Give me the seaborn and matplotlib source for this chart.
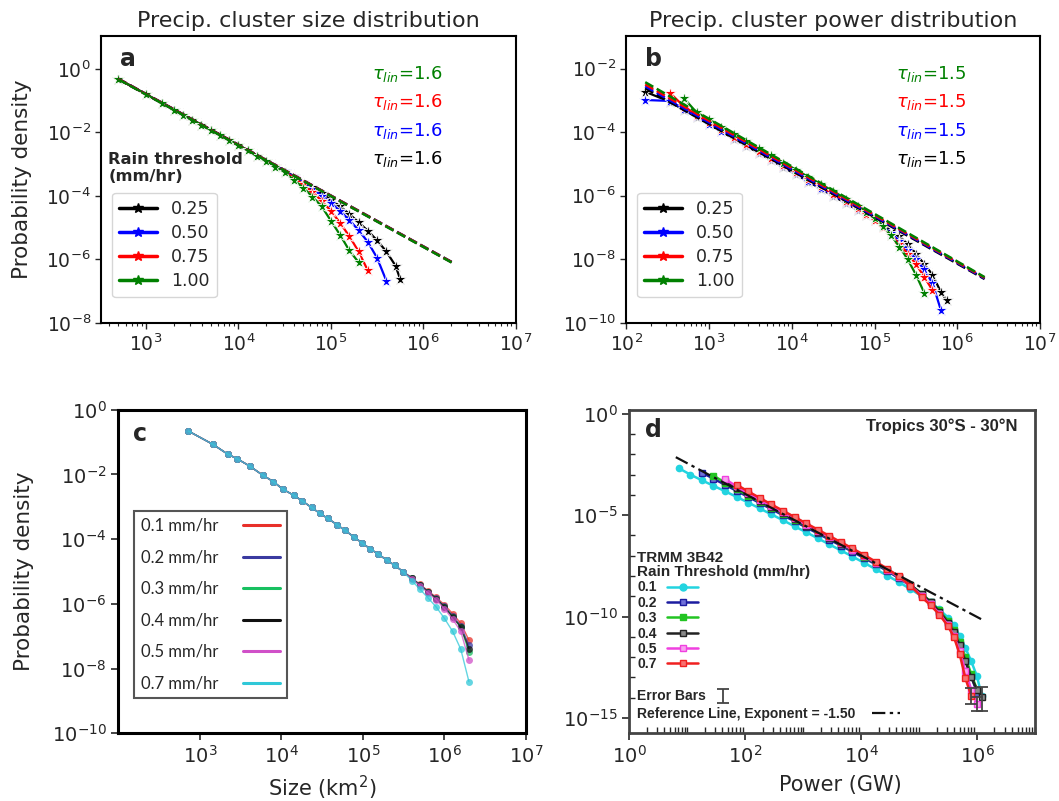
import numpy as np
import pandas as pd
import matplotlib
matplotlib.use("Agg")
import matplotlib.pyplot as plt
import seaborn as sns
from matplotlib.lines import Line2D
from matplotlib.ticker import LogLocator, NullLocator, NullFormatter

sns.set_style("ticks")
plt.rcParams['font.family'] = ['DejaVu Sans']
plt.rcParams['mathtext.fontset'] = 'dejavusans'

# ---------------- Panel a: cluster size distribution (log10 values)
a_thresholds = ["0.25", "0.50", "0.75", "1.00"]
a_colors = ["black", "blue", "red", "green"]
a_size_log10 = [2.70, 3.00, 3.176, 3.301, 3.398, 3.50, 3.60, 3.70, 3.80, 3.90, 4.00, 4.10, 4.20, 4.30,
                4.40, 4.50, 4.60, 4.70, 4.80, 4.90, 5.00, 5.10, 5.20, 5.30, 5.40, 5.50, 5.60, 5.70, 5.75]
a_p_025 = [-0.32, -0.80, -1.09, -1.28, -1.44, -1.61, -1.76, -1.93, -2.08, -2.24, -2.41, -2.56, -2.73, -2.89,
           -3.05, -3.21, -3.38, -3.55, -3.73, -3.92, -4.12, -4.33, -4.57, -4.83, -5.10, -5.40, -5.75, -6.20, -6.62]
a_p_050 = [-0.32, -0.80, -1.09, -1.28, -1.44, -1.61, -1.76, -1.93, -2.08, -2.24, -2.41, -2.56, -2.73, -2.89,
           -3.06, -3.22, -3.40, -3.58, -3.78, -3.99, -4.22, -4.48, -4.76, -5.08, -5.45, -5.95, -6.67]
a_p_075 = [-0.32, -0.80, -1.09, -1.28, -1.44, -1.61, -1.76, -1.93, -2.08, -2.24, -2.41, -2.56, -2.73, -2.89,
           -3.07, -3.24, -3.43, -3.64, -3.88, -4.15, -4.47, -4.85, -5.27, -5.75, -6.35]
a_p_100 = [-0.32, -0.80, -1.09, -1.28, -1.44, -1.61, -1.76, -1.93, -2.08, -2.24, -2.41, -2.57, -2.74, -2.91,
           -3.08, -3.26, -3.50, -3.74, -4.02, -4.33, -4.78, -5.23, -5.72, -6.09]
a_fit_size_log10 = [2.70, 6.32]
a_fit_p = {"0.25": [-0.31, -6.10], "0.50": [-0.32, -6.11], "0.75": [-0.32, -6.11], "1.00": [-0.33, -6.12]}
a_tau = ["1.6", "1.6", "1.6", "1.6"]

# ---------------- Panel b: cluster power distribution
b_power_log10 = [2.23, 2.53, 2.70, 2.85, 3.00, 3.15, 3.30, 3.45, 3.60, 3.75, 3.90, 4.05, 4.20, 4.35,
                 4.50, 4.65, 4.80, 4.90, 5.00, 5.10, 5.20, 5.30, 5.40, 5.50, 5.60, 5.70, 5.80, 5.87]
b_p_025 = [-2.73, -3.05, -3.31, -3.53, -3.76, -3.98, -4.21, -4.43, -4.66, -4.88, -5.11, -5.33, -5.56, -5.78,
           -6.01, -6.23, -6.46, -6.61, -6.77, -6.93, -7.10, -7.28, -7.52, -7.82, -8.15, -8.48, -9.02, -9.28]
b_p_050 = [-2.99, -3.02, -3.28, -3.50, -3.73, -3.95, -4.18, -4.40, -4.63, -4.85, -5.08, -5.30, -5.53, -5.75,
           -5.98, -6.20, -6.43, -6.58, -6.75, -6.95, -7.18, -7.42, -7.70, -8.00, -8.32, -8.75, -9.58]
b_p_075 = [None, -2.77, -3.20, -3.45, -3.68, -3.91, -4.14, -4.36, -4.59, -4.81, -5.04, -5.26, -5.49, -5.71,
           -5.94, -6.16, -6.40, -6.56, -6.75, -6.98, -7.24, -7.52, -7.82, -8.15, -8.55, -8.97]
b_p_100 = [None, None, -2.94, -3.38, -3.60, -3.83, -4.06, -4.28, -4.51, -4.73, -4.96, -5.18, -5.41, -5.63,
           -5.86, -6.09, -6.33, -6.50, -6.70, -6.95, -7.25, -7.60, -8.00, -8.48, -9.05]
b_fit_power_log10 = [2.23, 6.33]
b_fit_p = {"0.25": [-2.62, -8.62], "0.50": [-2.56, -8.60], "0.75": [-2.50, -8.58], "1.00": [-2.43, -8.56]}
b_tau = ["1.5", "1.5", "1.5", "1.5"]

# ---------------- Panel c: size distribution, several thresholds
c_labels = ["0.1 mm/hr", "0.2 mm/hr", "0.3 mm/hr", "0.4 mm/hr", "0.5 mm/hr", "0.7 mm/hr"]
c_colors = ["#e8302a", "#3a3aa0", "#18c060", "#111111", "#d050c8", "#30c8d8"]
c_size_log10 = [2.86, 3.16, 3.34, 3.46, 3.61, 3.77, 3.90, 4.02, 4.15, 4.25, 4.37, 4.47, 4.57, 4.68, 4.78,
                4.89, 4.99, 5.09, 5.19, 5.29, 5.39, 5.49, 5.60, 5.70, 5.80, 5.90, 6.00, 6.10, 6.20, 6.30]
c_head = [-0.66, -1.07, -1.37, -1.52, -1.74, -2.02, -2.22, -2.46, -2.64, -2.81, -3.02, -3.20, -3.36, -3.55,
          -3.73, -3.93, -4.12, -4.30, -4.47, -4.64, -4.81, -5.00]
c_p_01 = c_head + [-5.20, -5.40, -5.60, -5.80, -6.03, -6.30, -6.60, -7.12]
c_p_02 = c_head + [-5.21, -5.41, -5.62, -5.83, -6.08, -6.36, -6.68, -7.27]
c_p_03 = c_head + [-5.21, -5.42, -5.63, -5.84, -6.10, -6.40, -6.72, -7.48]
c_p_04 = c_head + [-5.21, -5.42, -5.63, -5.84, -6.10, -6.40, -6.72, -7.38]
c_p_05 = c_head + [-5.22, -5.44, -5.66, -5.88, -6.15, -6.47, -6.85, -7.73]
c_p_07 = c_head + [-5.28, -5.55, -5.82, -6.10, -6.45, -6.85, -7.40, -8.40]

# ---------------- Panel d: power distribution, TRMM 3B42
d_labels = ["0.1", "0.2", "0.3", "0.4", "0.5", "0.7"]
d_colors = ["#22d4e0", "#1c1ca0", "#22c422", "#222222", "#f040e0", "#f02020"]
d_face = ["#22d4e0", "#7070d8", "#22c422", "#888888", "#f8a0f0", "#f87070"]
d_markers = ["o", "s", "s", "s", "s", "s"]
d_power_log10 = [0.85, 1.05, 1.25, 1.45, 1.65, 1.85, 2.05, 2.25, 2.45, 2.65, 2.85, 3.05, 3.25, 3.45, 3.65,
                 3.85, 4.05, 4.25, 4.45, 4.65, 4.85, 5.05, 5.20, 5.35, 5.50, 5.60, 5.70, 5.80, 5.90, 6.00, 6.08]
d_p_01 = [-2.68, -3.00, -3.28, -3.55, -3.82, -4.10, -4.38, -4.67, -4.96, -5.25, -5.55, -5.84, -6.14, -6.44,
          -6.74, -7.04, -7.35, -7.66, -7.98, -8.30, -8.64, -9.00, -9.30, -9.65, -10.05, -10.40, -10.95, -11.55,
          -12.20, -12.95, -13.90]
d_p_02 = [None, None, -2.90, -3.20, -3.50, -3.80, -4.10, -4.40, -4.70, -5.00, -5.30, -5.60, -5.90, -6.20,
          -6.50, -6.80, -7.11, -7.42, -7.75, -8.10, -8.48, -8.92, -9.30, -9.72, -10.25, -10.70, -11.35, -12.10,
          -12.95, -13.75]
d_p_03 = [None, None, None, -3.05, -3.40, -3.72, -4.03, -4.33, -4.63, -4.93, -5.23, -5.53, -5.83, -6.13,
          -6.44, -6.74, -7.05, -7.37, -7.70, -8.05, -8.44, -8.88, -9.27, -9.70, -10.22, -10.65, -11.25, -12.00,
          -12.85, -13.60]
d_p_04 = [None, None, None, None, -3.30, -3.65, -3.98, -4.29, -4.60, -4.91, -5.21, -5.51, -5.81, -6.11,
          -6.42, -6.72, -7.03, -7.35, -7.68, -8.03, -8.43, -8.90, -9.30, -9.75, -10.30, -10.75, -11.40, -12.20,
          -13.00, -13.60, -13.95]
d_p_05 = [None, None, None, None, -3.22, -3.58, -3.92, -4.24, -4.55, -4.86, -5.16, -5.46, -5.77, -6.08,
          -6.39, -6.70, -7.01, -7.34, -7.68, -8.05, -8.48, -8.98, -9.40, -9.85, -10.42, -10.95, -11.70, -12.70,
          -13.60, -14.30]
d_p_07 = [None, None, None, None, None, -3.50, -3.83, -4.15, -4.47, -4.78, -5.09, -5.40, -5.71, -6.02,
          -6.33, -6.64, -6.96, -7.29, -7.64, -8.02, -8.47, -9.05, -9.45, -9.90, -10.48, -11.00, -11.85, -13.05,
          -13.90]
d_ref_power_log10 = [0.80, 6.12]
d_ref_p = [-2.14, -10.20]
d_err_power_log10 = [6.08, 6.00, 5.90]
d_err_p = [-13.95, -14.30, -13.90]
d_err_low = [-14.65, -14.65, -14.30]
d_err_high = [-13.45, -13.95, -13.50]


def long_frame(x_log10, series):
    rows = []
    for name, vals in series.items():
        for xl, yl in zip(x_log10, vals):
            if yl is None:
                continue
            rows.append((10.0 ** xl, 10.0 ** yl, name))
    return pd.DataFrame(rows, columns=["x", "p", "thr"])


fig = plt.figure(figsize=(10.59, 8.01), dpi=100)
ax_a = fig.add_axes([0.0958, 0.5969, 0.3911, 0.3576])
ax_b = fig.add_axes([0.5913, 0.5969, 0.3908, 0.3576])
ax_c = fig.add_axes([0.1117, 0.0845, 0.3850, 0.4040])
ax_d = fig.add_axes([0.5944, 0.0854, 0.3829, 0.4031])
for ax in (ax_a, ax_b, ax_c, ax_d):
    ax.set_xscale("log")
    ax.set_yscale("log")

# ---------------- a & b
def panel_ab(ax, x_log10, series, fit_x, fit_p, taus, title, letter, xlim, ylim, yticks):
    df = long_frame(x_log10, series)
    pal = dict(zip(a_thresholds, a_colors))
    sns.lineplot(data=df, x="x", y="p", hue="thr", hue_order=a_thresholds, palette=pal,
                 marker="*", markersize=9.5, markeredgewidth=0.6, linewidth=1.6,
                 sort=False, estimator=None, legend=False, ax=ax)
    for thr, col in zip(a_thresholds, a_colors):
        sns.lineplot(x=10.0 ** np.array(fit_x), y=10.0 ** np.array(fit_p[thr]), color=col,
                     linestyle="--", linewidth=1.8, ax=ax, legend=False)
    ax.set_xlim(*xlim)
    ax.set_ylim(*ylim)
    ax.set_yticks(yticks)
    ax.yaxis.set_minor_locator(NullLocator())
    ax.set_xlabel("")
    ax.set_ylabel("")
    ax.tick_params(labelsize=13.5, width=1.0, length=4)
    ax.tick_params(which="minor", width=0.8, length=2.5)
    for s in ax.spines.values():
        s.set_linewidth(1.5)
        s.set_color("black")
        s.set_visible(True)
    ax.set_title(title, fontsize=16, pad=7)
    ax.text(0.045, 0.898, letter, transform=ax.transAxes, fontsize=17, fontweight="bold", va="baseline")
    ys = [0.870, 0.770, 0.669, 0.573]
    for (tau, col, yy) in zip(taus, ["green", "red", "blue", "black"], ys):
        ax.text(0.653, yy, r"$\tau_{lin}$=" + tau, transform=ax.transAxes, color=col, fontsize=13,
                va="center", ha="left")
    handles = [Line2D([], [], color=c, marker="*", lw=2.5, markersize=7) for c in a_colors]
    ax.legend(handles, a_thresholds, loc="upper left", bbox_to_anchor=(0.0263, 0.4536), borderaxespad=0,
              fontsize=12.5, labelspacing=0.35, handlelength=2.2, handletextpad=0.8)


panel_ab(ax_a, a_size_log10, dict(zip(a_thresholds, [a_p_025, a_p_050, a_p_075, a_p_100])),
         a_fit_size_log10, a_fit_p, a_tau[::-1], "Precip. cluster size distribution", "a",
         (329, 1e7), (1e-8, 10.5), [1e0, 1e-2, 1e-4, 1e-6, 1e-8])
ax_a.text(0.017, 0.595, "Rain threshold\n(mm/hr)", transform=ax_a.transAxes, fontsize=11.7,
          fontweight="bold", va="top", ha="left", linespacing=1.15)
ax_a.set_ylabel("Probability density", fontsize=15.5)
ax_a.yaxis.set_label_coords(-0.167, 0.5)

panel_ab(ax_b, b_power_log10, dict(zip(a_thresholds, [b_p_025, b_p_050, b_p_075, b_p_100])),
         b_fit_power_log10, b_fit_p, b_tau[::-1], "Precip. cluster power distribution", "b",
         (100, 1e7), (1e-10, 0.102), [1e-2, 1e-4, 1e-6, 1e-8, 1e-10])

# ---------------- c
df_c = long_frame(c_size_log10, dict(zip(c_labels, [c_p_01, c_p_02, c_p_03, c_p_04, c_p_05, c_p_07])))
sns.lineplot(data=df_c, x="x", y="p", hue="thr", hue_order=c_labels, palette=dict(zip(c_labels, c_colors)),
             marker="o", markersize=5, markeredgewidth=0, linewidth=1.0, alpha=0.75,
             sort=False, estimator=None, legend=False, ax=ax_c)
ax_c.set_xlim(100, 1e7)
ax_c.set_ylim(1e-10, 1)
ax_c.set_xticks([1e3, 1e4, 1e5, 1e6, 1e7])
ax_c.set_yticks([1e0, 1e-2, 1e-4, 1e-6, 1e-8, 1e-10])
ax_c.xaxis.set_minor_locator(NullLocator())
ax_c.yaxis.set_minor_locator(NullLocator())
ax_c.tick_params(labelsize=14, width=1.2, length=5)
for s in ax_c.spines.values():
    s.set_linewidth(2.2)
    s.set_color("black")
ax_c.set_xlabel(r"Size (km$^2$)", fontsize=15)
ax_c.xaxis.set_label_coords(0.5, -0.125)
ax_c.set_ylabel("Probability density", fontsize=15.5)
ax_c.yaxis.set_label_coords(-0.207, 0.5)
ax_c.text(0.037, 0.9036, "c", transform=ax_c.transAxes, fontsize=17, fontweight="bold", va="baseline")
c_handles = [Line2D([], [], color=c, lw=2.2) for c in c_colors]
leg_c = ax_c.legend(c_handles, c_labels, loc="upper left", bbox_to_anchor=(0.039, 0.6863), borderaxespad=0,
                    prop=dict(family="Lato", size=12), markerfirst=False, fancybox=False, framealpha=1,
                    edgecolor="#555555", labelspacing=0.93, handlelength=2.2, handletextpad=1.5,
                    borderpad=0.4)
leg_c.get_frame().set_linewidth(1.5)

# ---------------- d
for lab, col, fc, mk, vals in zip(d_labels, d_colors, d_face, d_markers,
                                  [d_p_01, d_p_02, d_p_03, d_p_04, d_p_05, d_p_07]):
    df = long_frame(d_power_log10, {lab: vals})
    sns.lineplot(data=df, x="x", y="p", color=col, marker=mk, markersize=4.5, markerfacecolor=fc,
                 markeredgecolor=col, markeredgewidth=1.0, linewidth=1.8, sort=False, estimator=None,
                 legend=False, ax=ax_d)
sns.lineplot(x=10.0 ** np.array(d_ref_power_log10), y=10.0 ** np.array(d_ref_p), color="#111111",
             dashes=False, linewidth=1.6, ax=ax_d, legend=False)
ax_d.lines[-1].set_linestyle((0, (6, 2, 1.5, 2)))
ey = 10.0 ** np.array(d_err_p)
elow = ey - 10.0 ** np.array(d_err_low)
ehigh = 10.0 ** np.array(d_err_high) - ey
eb = ax_d.errorbar(10.0 ** np.array(d_err_power_log10), ey, yerr=[elow, ehigh], fmt="none",
                   ecolor="#444444", elinewidth=1.3, capsize=4, capthick=1.3)
ax_d.set_xlim(1, 1e7)
ax_d.set_ylim(10 ** -15.72, 10 ** 0.2)
ax_d.set_xticks([1e0, 1e2, 1e4, 1e6])
ax_d.set_yticks([1e0, 1e-5, 1e-10, 1e-15])
ax_d.xaxis.set_minor_locator(LogLocator(base=10, subs=np.arange(1, 10), numticks=200))
ax_d.yaxis.set_minor_locator(LogLocator(base=10, subs=(1.0,), numticks=200))
ax_d.xaxis.set_minor_formatter(NullFormatter())
ax_d.yaxis.set_minor_formatter(NullFormatter())
ax_d.tick_params(labelsize=14, width=1.2, length=5, direction="out")
ax_d.tick_params(which="minor", direction="in", width=1.0, length=4)
for s in ax_d.spines.values():
    s.set_linewidth(2.0)
    s.set_color("#444444")
ax_d.set_xlabel("Power (GW)", fontsize=15)
ax_d.xaxis.set_label_coords(0.52, -0.13)
ax_d.set_ylabel("")
ax_d.text(0.0375, 0.914, "d", transform=ax_d.transAxes, fontsize=17, fontweight="bold", va="baseline")
ax_d.text(0.957, 0.935, "Tropics 30\u00b0S - 30\u00b0N", transform=ax_d.transAxes, fontsize=12,
          fontweight="bold", family="Liberation Sans", ha="right", va="baseline")

bold = dict(family="Liberation Sans", weight="bold", size=10)
d_handles = [Line2D([], [], color=c, marker=m, markerfacecolor=f, markeredgecolor=c, markersize=5,
                    lw=1.8) for c, f, m in zip(d_colors, d_face, d_markers)]
leg1 = ax_d.legend(d_handles, d_labels, loc="upper left", bbox_to_anchor=(0.019, 0.5624), borderaxespad=0,
                   prop=bold, title="TRMM 3B42\nRain Threshold (mm/hr)",
                   title_fontproperties=dict(family="Liberation Sans", weight="bold", size=11),
                   alignment="left", markerfirst=False, frameon=False, borderpad=0, labelspacing=0.1,
                   handlelength=2.2, handletextpad=0.76)
leg1.get_title().set_linespacing(1.0)
ax_d.add_artist(leg1)
leg2 = ax_d.legend([eb], ["Error Bars"], loc="center left", bbox_to_anchor=(0.019, 0.112), borderaxespad=0,
                   prop=bold, markerfirst=False, frameon=False, borderpad=0, handlelength=1.2,
                   handletextpad=0.6)
ax_d.add_artist(leg2)
ref_handle = Line2D([], [], color="#111111", lw=1.6, linestyle=(0, (6, 2, 1.5, 2)))
ax_d.legend([ref_handle], ["Reference Line, Exponent = -1.50"], loc="center left",
            bbox_to_anchor=(0.019, 0.0576), borderaxespad=0, prop=bold, markerfirst=False, frameon=False,
            borderpad=0, handlelength=2.0, handletextpad=1.2)

fig.savefig("out.png", dpi=100)
